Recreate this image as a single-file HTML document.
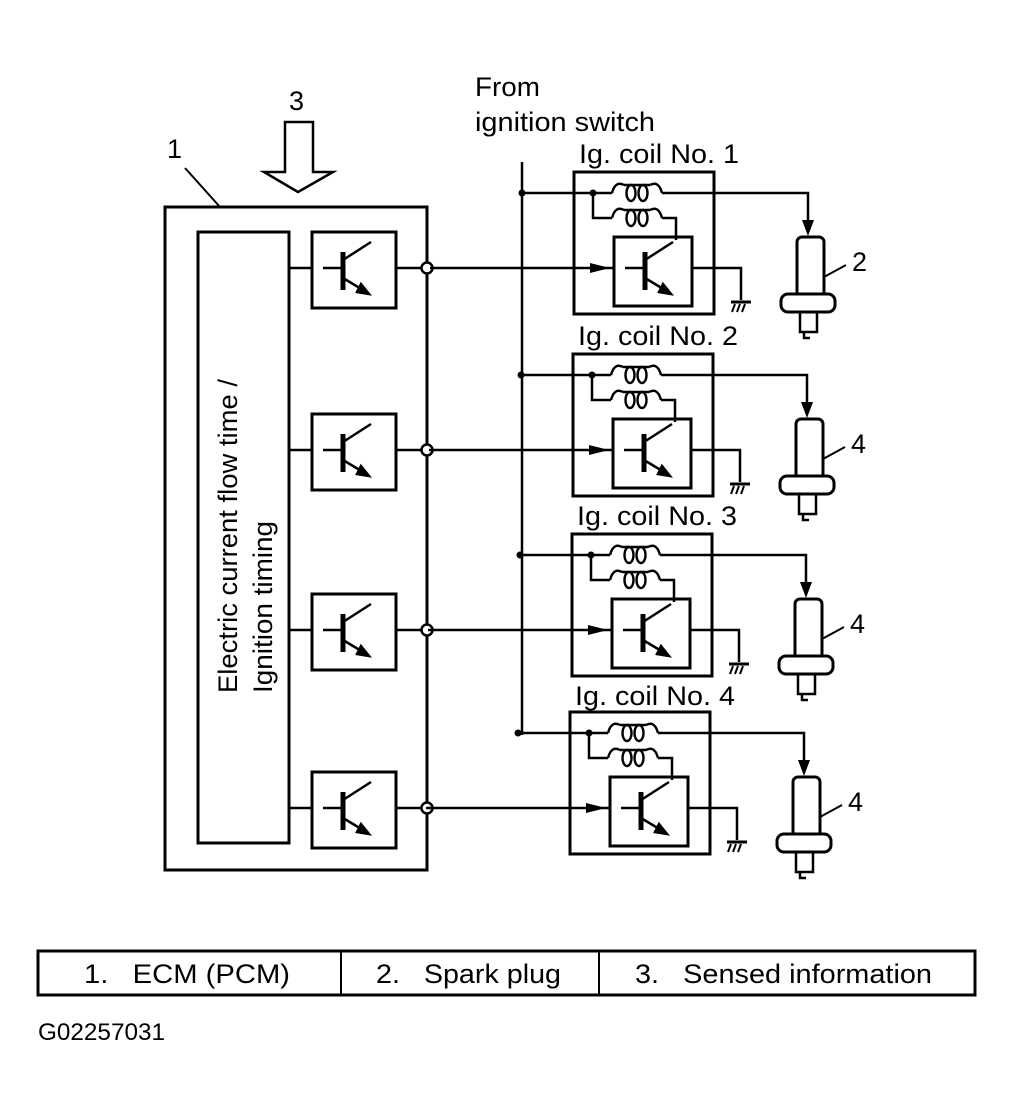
<!DOCTYPE html>
<html><head><meta charset="utf-8"><style>
html,body{margin:0;padding:0;background:#fff;}
svg{display:block;}
text{font-family:"Liberation Sans",sans-serif;fill:#000;white-space:pre;}
</style></head><body>
<svg width="1014" height="1116" viewBox="0 0 1014 1116" xmlns="http://www.w3.org/2000/svg">
<defs>
<g id="tr" fill="none" stroke="#000" stroke-width="2.5">
  <line x1="-22" y1="0" x2="-2" y2="0"/>
  <line x1="-2" y1="-16" x2="-2" y2="22" stroke-width="5"/>
  <line x1="-2" y1="-8" x2="26" y2="-26"/>
  <line x1="-2" y1="10" x2="18" y2="22"/>
  <polygon points="24,26 12,24 16,16" fill="#000"/>
</g>
<g id="coil" fill="none" stroke="#000" stroke-width="2.4">
  <path d="M0,0 C3,-11 8,-10 12,-8 M38,-8 C42,-10 47,-11 50,0"/>
  <line x1="12" y1="-8" x2="38" y2="-8"/>
  <ellipse cx="19" cy="0" rx="4.5" ry="8"/>
  <ellipse cx="31" cy="0" rx="4.5" ry="8"/>
</g>
<g id="coilunit">
  <rect x="574" y="172" width="140" height="142" fill="none" stroke="#000" stroke-width="3"/>
  <circle cx="522" cy="193" r="3.5" fill="#000"/>
  <line x1="522" y1="193" x2="612" y2="193" stroke="#000" stroke-width="2.5"/>
  <use href="#coil" x="612" y="193"/>
  <polyline points="662,193 808,193 808,225" fill="none" stroke="#000" stroke-width="2.5"/>
  <polygon points="802,220 814,220 808,236" fill="#000"/>
  <circle cx="593" cy="193" r="3.5" fill="#000"/>
  <polyline points="593,193 593,218 612,218" fill="none" stroke="#000" stroke-width="2.5"/>
  <use href="#coil" x="612" y="218"/>
  <polyline points="662,218 676,218 676,240" fill="none" stroke="#000" stroke-width="2.5"/>
  <rect x="614" y="237" width="78" height="69" fill="none" stroke="#000" stroke-width="3"/>
  <use href="#tr" x="647" y="268"/>
  <line x1="430" y1="268" x2="614" y2="268" stroke="#000" stroke-width="2.5"/>
  <polygon points="590,263 610,268 590,273" fill="#000"/>
  <polyline points="692,268 741,268 741,300" fill="none" stroke="#000" stroke-width="2.5"/>
  <line x1="731" y1="302" x2="751" y2="302" stroke="#000" stroke-width="3"/>
  <path d="M735,304 l-3,8 M740,304 l-3,8 M745,304 l-3,8" stroke="#000" stroke-width="2"/>
  <rect x="797" y="237" width="27" height="60" rx="5" fill="none" stroke="#000" stroke-width="3"/>
  <rect x="781" y="294" width="54" height="18" rx="7" fill="#fff" stroke="#000" stroke-width="3"/>
  <rect x="800" y="312" width="17" height="20" fill="none" stroke="#000" stroke-width="2.5"/>
  <path d="M804,332 l0,6 l6,0" fill="none" stroke="#000" stroke-width="2.5"/>
  <line x1="824" y1="277" x2="846" y2="265" stroke="#000" stroke-width="2"/>
</g>
<g id="ecmrow">
  <line x1="289" y1="268" x2="312" y2="268" stroke="#000" stroke-width="2.5"/>
  <rect x="312" y="232" width="84" height="76" fill="none" stroke="#000" stroke-width="3"/>
  <use href="#tr" x="345" y="268"/>
  <line x1="396" y1="268" x2="427" y2="268" stroke="#000" stroke-width="2.5"/>
  <circle cx="427" cy="268" r="5.5" fill="#fff" stroke="#000" stroke-width="2.5"/>
</g>
</defs>

<text x="289" y="110" font-size="27">3</text>
<polygon points="285,122 313,122 313,172 333,172 298,192 264,172 285,172" fill="#fff" stroke="#000" stroke-width="2.5"/>
<text x="167" y="158" font-size="27">1</text>
<line x1="185" y1="168" x2="220" y2="207" stroke="#000" stroke-width="2"/>
<text x="475" y="96" font-size="27" textLength="65" lengthAdjust="spacingAndGlyphs">From</text>
<text x="475" y="131" font-size="27" textLength="180" lengthAdjust="spacingAndGlyphs">ignition switch</text>

<rect x="165" y="207" width="262" height="663" fill="none" stroke="#000" stroke-width="3"/>
<rect x="198" y="232" width="91" height="611" fill="none" stroke="#000" stroke-width="3"/>
<text transform="translate(237,693) rotate(-90)" font-size="27" textLength="314" lengthAdjust="spacingAndGlyphs">Electric current flow time /</text>
<text transform="translate(272,693) rotate(-90)" font-size="27" textLength="172" lengthAdjust="spacingAndGlyphs">Ignition timing</text>

<use href="#ecmrow"/>
<use href="#ecmrow" transform="translate(0,182)"/>
<use href="#ecmrow" transform="translate(0,362)"/>
<use href="#ecmrow" transform="translate(0,540)"/>

<line x1="522" y1="162" x2="522" y2="735" stroke="#000" stroke-width="2.5"/>

<use href="#coilunit"/>
<use href="#coilunit" transform="translate(-1,182)"/>
<use href="#coilunit" transform="translate(-2,362)"/>
<use href="#coilunit" transform="translate(-4,540)"/>

<text x="579" y="163" font-size="27" textLength="160" lengthAdjust="spacingAndGlyphs">Ig. coil No. 1</text>
<text x="578" y="345" font-size="27" textLength="160" lengthAdjust="spacingAndGlyphs">Ig. coil No. 2</text>
<text x="577" y="525" font-size="27" textLength="160" lengthAdjust="spacingAndGlyphs">Ig. coil No. 3</text>
<text x="575" y="705" font-size="27" textLength="160" lengthAdjust="spacingAndGlyphs">Ig. coil No. 4</text>
<text x="852" y="271" font-size="27">2</text>
<text x="851" y="453" font-size="27">4</text>
<text x="850" y="633" font-size="27">4</text>
<text x="848" y="811" font-size="27">4</text>

<rect x="38" y="951" width="937" height="44" fill="none" stroke="#000" stroke-width="3"/>
<line x1="341" y1="951" x2="341" y2="995" stroke="#000" stroke-width="2"/>
<line x1="599" y1="951" x2="599" y2="995" stroke="#000" stroke-width="2"/>
<text x="84" y="983" font-size="27" textLength="206" lengthAdjust="spacingAndGlyphs">1.   ECM (PCM)</text>
<text x="376" y="983" font-size="27" textLength="185" lengthAdjust="spacingAndGlyphs">2.   Spark plug</text>
<text x="635" y="983" font-size="27" textLength="297" lengthAdjust="spacingAndGlyphs">3.   Sensed information</text>
<text x="38" y="1040" font-size="24" textLength="127" lengthAdjust="spacingAndGlyphs">G02257031</text>
</svg>
</body></html>
